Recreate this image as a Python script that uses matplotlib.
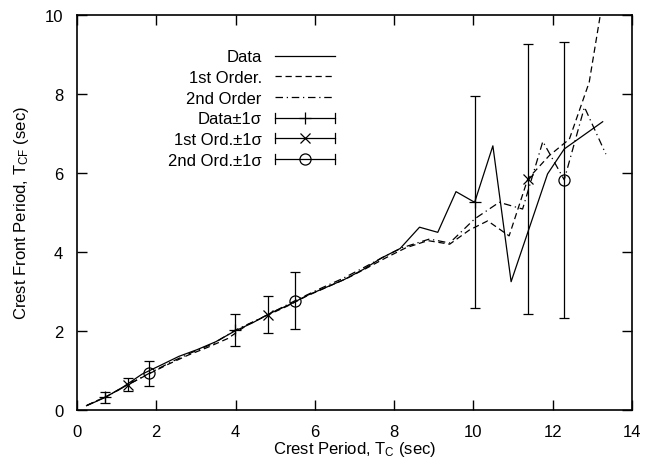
import matplotlib
matplotlib.use('Agg')
import matplotlib.pyplot as plt
from matplotlib.lines import Line2D
from matplotlib.legend_handler import HandlerBase

plt.rcParams['font.family'] = ['Liberation Sans', 'DejaVu Sans']
plt.rcParams['font.size'] = 12

# measured crest front period vs crest period
data_x = [0.24, 0.71, 1.17, 1.64, 2.10, 2.57, 3.03, 3.50, 3.96, 4.43, 4.89, 5.36, 5.82, 6.29,
          6.75, 7.22, 7.68, 8.15, 8.64, 9.10, 9.56, 10.03, 10.49, 10.95, 11.87, 12.29, 13.26]
data_y = [0.10, 0.31, 0.58, 0.90, 1.12, 1.35, 1.52, 1.72, 1.98, 2.20, 2.45, 2.66, 2.90, 3.10,
          3.30, 3.55, 3.84, 4.08, 4.62, 4.49, 5.52, 5.25, 6.68, 3.24, 5.97, 6.60, 7.29]

# 1st order model
first_x = [0.25, 0.75, 1.28, 1.80, 2.30, 2.80, 3.30, 3.80, 4.30, 4.82, 5.30, 5.80, 6.30, 6.80,
           7.30, 7.80, 8.30, 8.85, 9.40, 9.90, 10.36, 10.90, 11.37, 11.91, 12.42, 12.92, 13.30]
first_y = [0.11, 0.34, 0.63, 0.90, 1.15, 1.38, 1.58, 1.80, 2.15, 2.40, 2.62, 2.88, 3.10, 3.32,
           3.58, 3.85, 4.10, 4.28, 4.19, 4.55, 4.78, 4.40, 5.84, 6.43, 6.85, 8.29, 10.60]

# 2nd order model
second_x = [0.25, 0.80, 1.30, 1.82, 2.40, 2.90, 3.45, 4.00, 4.50, 5.00, 5.50, 6.10, 6.70, 7.20,
            7.70, 8.20, 8.89, 9.40, 10.03, 10.65, 11.24, 11.75, 12.29, 12.80, 13.34]
second_y = [0.11, 0.36, 0.64, 0.92, 1.22, 1.45, 1.68, 2.02, 2.25, 2.50, 2.76, 3.05, 3.32, 3.58,
            3.85, 4.10, 4.32, 4.22, 4.83, 5.25, 5.08, 6.79, 5.82, 7.66, 6.47]

# +/- 1 sigma bands
data_sx = [0.71, 3.98, 10.03]
data_sy = [0.31, 2.02, 5.25]
data_sd = [0.15, 0.41, 2.68]

first_sx = [1.28, 4.82, 11.37]
first_sy = [0.63, 2.40, 5.84]
first_sd = [0.16, 0.47, 3.41]

second_sx = [1.82, 5.50, 12.29]
second_sy = [0.92, 2.76, 5.82]
second_sd = [0.31, 0.72, 3.50]


class BarKey(HandlerBase):
    # horizontal bar with end ticks and the point marker in the middle
    def create_artists(self, legend, orig_handle, xdescent, ydescent,
                       width, height, fontsize, trans):
        y = (height - ydescent) / 2
        x0, x1 = -xdescent, width - xdescent
        c = 3.6
        arts = [Line2D([x0, x1], [y, y], color='k', lw=0.9),
                Line2D([x0, x0], [y - c, y + c], color='k', lw=0.9),
                Line2D([x1, x1], [y - c, y + c], color='k', lw=0.9),
                Line2D([(x0 + x1) / 2], [y], ls='none', color='k',
                       marker=orig_handle.get_marker(), ms=orig_handle.get_markersize(),
                       mfc='none', mec='k', mew=0.9)]
        for a in arts:
            a.set_transform(trans)
        return arts


fig = plt.figure(figsize=(6.6, 4.64), dpi=100)
ax = fig.add_axes([0.1167, 0.1149, 0.8409, 0.8513])

l1, = ax.plot(data_x, data_y, 'k-', lw=0.9)
l2, = ax.plot(first_x, first_y, 'k', ls=(0, (5, 3)), lw=0.9)
l3, = ax.plot(second_x, second_y, 'k', ls=(0, (6, 3, 1, 3)), lw=0.9)

ax.errorbar(data_sx, data_sy, yerr=data_sd, fmt='+', ms=8, color='k',
            elinewidth=0.9, capsize=3.6, capthick=0.9, mew=0.9)
ax.errorbar(first_sx, first_sy, yerr=first_sd, fmt='x', ms=7, color='k',
            elinewidth=0.9, capsize=3.6, capthick=0.9, mew=0.9)
ax.errorbar(second_sx, second_sy, yerr=second_sd, fmt='o', ms=8, color='k', mfc='none',
            elinewidth=0.9, capsize=3.6, capthick=0.9, mew=0.9)

h4 = Line2D([], [], marker='+', ms=8)
h5 = Line2D([], [], marker='x', ms=7)
h6 = Line2D([], [], marker='o', ms=8)

ax.legend([l1, l2, l3, h4, h5, h6],
          ['Data', '1st Order.', '2nd Order', 'Data±1σ', '1st Ord.±1σ', '2nd Ord.±1σ'],
          handler_map={h4: BarKey(), h5: BarKey(), h6: BarKey()},
          loc='upper right', bbox_to_anchor=(0.465, 0.912), borderaxespad=0, borderpad=0,
          frameon=False, markerfirst=False, handlelength=3.6, handletextpad=0.8,
          labelspacing=0.34)

ax.set_xlim(0, 14)
ax.set_ylim(0, 10)
ax.set_xticks(range(0, 15, 2))
ax.set_yticks(range(0, 11, 2))
ax.tick_params(direction='in', length=7, width=1, top=True, right=True, pad=10)
for s in ax.spines.values():
    s.set_linewidth(1.2)

ax.set_xlabel('Crest Period, $\\mathregular{T_C}$ (sec)', labelpad=0)
ax.set_ylabel('Crest Front Period, $\\mathregular{T_{CF}}$ (sec)', labelpad=10)

fig.savefig('out.png', dpi=100)
